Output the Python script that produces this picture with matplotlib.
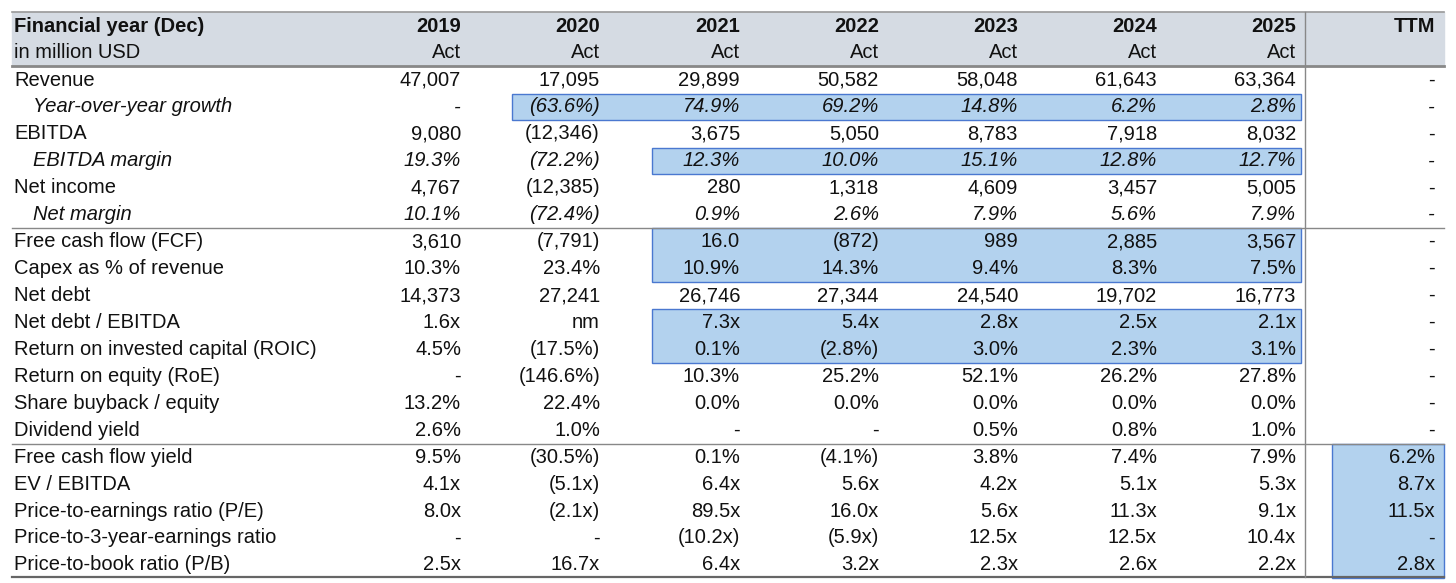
import matplotlib
matplotlib.use("Agg")
import matplotlib.pyplot as plt
from matplotlib.patches import Rectangle

years = ["2019", "2020", "2021", "2022", "2023", "2024", "2025", "TTM"]
subhdr = ["Act"] * 7 + [""]
labels = ["Revenue", "Year-over-year growth", "EBITDA", "EBITDA margin", "Net income", "Net margin",
          "Free cash flow (FCF)", "Capex as % of revenue", "Net debt", "Net debt / EBITDA",
          "Return on invested capital (ROIC)", "Return on equity (RoE)", "Share buyback / equity",
          "Dividend yield", "Free cash flow yield", "EV / EBITDA", "Price-to-earnings ratio (P/E)",
          "Price-to-3-year-earnings ratio", "Price-to-book ratio (P/B)"]
italic_rows = [1, 3, 5]
values = [
    ["47,007", "17,095", "29,899", "50,582", "58,048", "61,643", "63,364", "-"],
    ["-", "(63.6%)", "74.9%", "69.2%", "14.8%", "6.2%", "2.8%", "-"],
    ["9,080", "(12,346)", "3,675", "5,050", "8,783", "7,918", "8,032", "-"],
    ["19.3%", "(72.2%)", "12.3%", "10.0%", "15.1%", "12.8%", "12.7%", "-"],
    ["4,767", "(12,385)", "280", "1,318", "4,609", "3,457", "5,005", "-"],
    ["10.1%", "(72.4%)", "0.9%", "2.6%", "7.9%", "5.6%", "7.9%", "-"],
    ["3,610", "(7,791)", "16.0", "(872)", "989", "2,885", "3,567", "-"],
    ["10.3%", "23.4%", "10.9%", "14.3%", "9.4%", "8.3%", "7.5%", "-"],
    ["14,373", "27,241", "26,746", "27,344", "24,540", "19,702", "16,773", "-"],
    ["1.6x", "nm", "7.3x", "5.4x", "2.8x", "2.5x", "2.1x", "-"],
    ["4.5%", "(17.5%)", "0.1%", "(2.8%)", "3.0%", "2.3%", "3.1%", "-"],
    ["-", "(146.6%)", "10.3%", "25.2%", "52.1%", "26.2%", "27.8%", "-"],
    ["13.2%", "22.4%", "0.0%", "0.0%", "0.0%", "0.0%", "0.0%", "-"],
    ["2.6%", "1.0%", "-", "-", "0.5%", "0.8%", "1.0%", "-"],
    ["9.5%", "(30.5%)", "0.1%", "(4.1%)", "3.8%", "7.4%", "7.9%", "6.2%"],
    ["4.1x", "(5.1x)", "6.4x", "5.6x", "4.2x", "5.1x", "5.3x", "8.7x"],
    ["8.0x", "(2.1x)", "89.5x", "16.0x", "5.6x", "11.3x", "9.1x", "11.5x"],
    ["-", "-", "(10.2x)", "(5.9x)", "12.5x", "12.5x", "10.4x", "-"],
    ["2.5x", "16.7x", "6.4x", "3.2x", "2.3x", "2.6x", "2.2x", "2.8x"],
]
# highlight boxes: (first row, last row, first col, last col)
highlights = [(1, 1, 1, 6), (3, 3, 2, 6), (6, 7, 2, 6), (9, 10, 2, 6), (14, 18, 7, 7)]

W, H = 1456, 583
fig = plt.figure(figsize=(W / 100, H / 100), dpi=100)
ax = fig.add_axes([0, 0, 1, 1])
ax.set_xlim(0, W); ax.set_ylim(H, 0); ax.axis("off")
plt.rcParams["font.family"] = ["Liberation Sans", "DejaVu Sans"]
fs = 14.5
col_right = [461, 600, 740, 879, 1018, 1157, 1296, 1435]
y0, dy = 80, 26.94
txt = "#111111"

ax.add_patch(Rectangle((12, 12), 1432, 53, color="#d5dbe3", zorder=0))
ax.text(14, 26, "Financial year (Dec)", fontsize=fs, fontweight="bold", va="center", color=txt)
ax.text(14, 53, "in million USD", fontsize=fs, va="center", color=txt)
for j, c in enumerate(col_right):
    ax.text(c, 26, years[j], fontsize=fs, fontweight="bold", va="center", ha="right", color=txt)
    ax.text(c, 53, subhdr[j], fontsize=fs, va="center", ha="right", color=txt)

for (r0, r1, c0, c1) in highlights:
    x0 = col_right[c0] - 88 if c0 < 7 else 1332
    x1 = col_right[c1] + 5 if c1 < 7 else 1444
    ya = y0 + dy * r0 - 13.2
    yb = y0 + dy * r1 + 13.2
    ax.add_patch(Rectangle((x0, ya), x1 - x0, yb - ya, facecolor="#b3d2ee",
                           edgecolor="#4a78d0", linewidth=1.0, zorder=1))

for i, lab in enumerate(labels):
    y = y0 + dy * i
    it = i in italic_rows
    ax.text(33 if it else 14, y, lab, fontsize=fs, va="center", color=txt,
            style="italic" if it else "normal", zorder=3)
    for j, v in enumerate(values[i]):
        ax.text(col_right[j], y, v, fontsize=fs, va="center", ha="right", color=txt,
                style="italic" if it else "normal", zorder=3)

ax.plot([12, 1444], [12, 12], color="#999999", lw=1.2)
ax.plot([12, 1444], [65.5, 65.5], color="#888888", lw=2.0)
for yl in [y0 + dy * 5.5, y0 + dy * 13.5]:
    ax.plot([12, 1444], [yl, yl], color="#888888", lw=1.0)
ax.plot([12, 1444], [577, 577], color="#666666", lw=1.6)
ax.plot([1305, 1305], [12, 577], color="#888888", lw=1.0)

fig.savefig("out.png", dpi=100)
